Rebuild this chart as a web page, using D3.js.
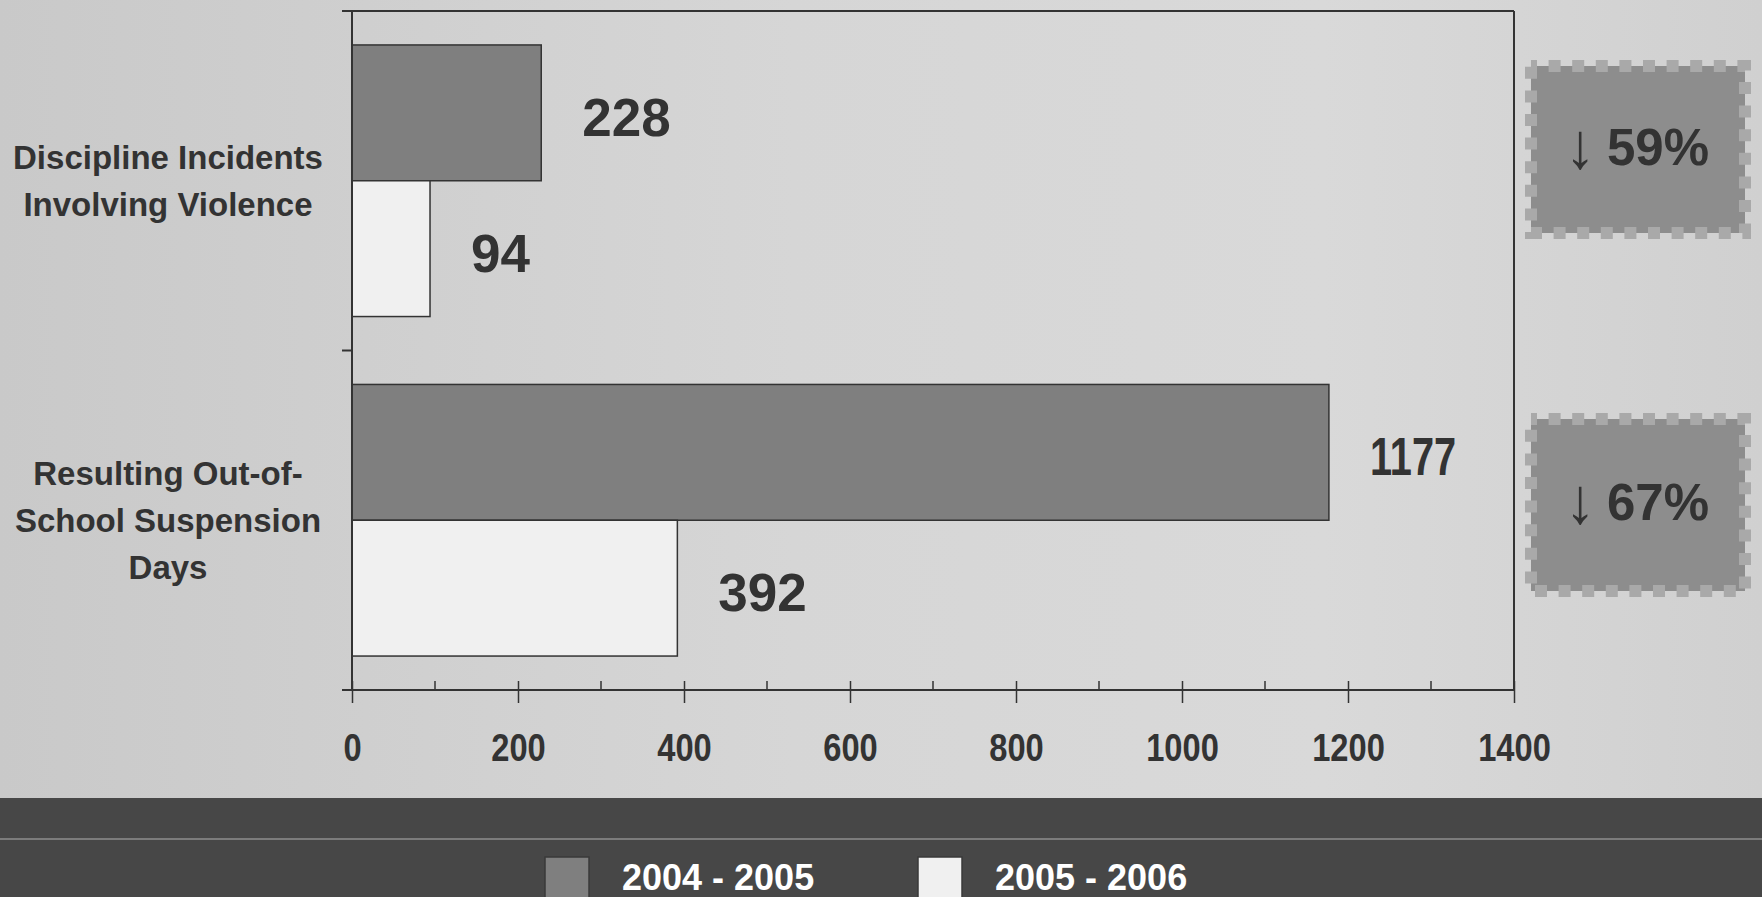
<!DOCTYPE html>
<html>
<head>
<meta charset="utf-8">
<script src="https://cdn.jsdelivr.net/npm/d3@7"></script>
<style>
  html, body { margin: 0; padding: 0; background: #d2d2d2; }
  svg { display: block; }
  text { font-family: "Liberation Sans", Arial, sans-serif; }
</style>
</head>
<body>
<svg id="chart" width="1762" height="897"></svg>
<script>
// Categories (one row per measure) and the two school years compared
const categories = ["Discipline Incidents Involving Violence", "Resulting Out-of-School Suspension Days"];
const categoryLines = [
  ["Discipline Incidents", "Involving Violence"],
  ["Resulting Out-of-", "School Suspension", "Days"]
];
const seriesNames = ["2004 - 2005", "2005 - 2006"];
const values2004 = [228, 1177];
const values2005 = [94, 392];
const xTickValues = [0, 200, 400, 600, 800, 1000, 1200, 1400];
const xMinorTicks = [100, 300, 500, 700, 900, 1100, 1300];

const W = 1762, H = 897;
const svg = d3.select("#chart");
const ink = "#333333";
const seriesColors = ["#7f7f7f", "#f0f0f0"];

// Backdrop
const defs = svg.append("defs");
const bg = defs.append("linearGradient").attr("id", "bg").attr("x1", 0).attr("x2", 1).attr("y1", 0).attr("y2", 0);
bg.append("stop").attr("offset", "0%").attr("stop-color", "#c9c9c9");
bg.append("stop").attr("offset", "45%").attr("stop-color", "#d6d6d6");
bg.append("stop").attr("offset", "75%").attr("stop-color", "#d9d9d9");
bg.append("stop").attr("offset", "100%").attr("stop-color", "#d0d0d0");
svg.append("rect").attr("width", W).attr("height", H).attr("fill", "url(#bg)");

// Plot area
const plot = { left: 352, right: 1514, top: 11, bottom: 690 };

const x = d3.scaleLinear().domain([0, 1400]).range([plot.left, plot.right]);
const y = d3.scaleBand().domain(categories).range([plot.top, plot.bottom])
  .paddingInner(0.2).paddingOuter(0.1);
const ySub = d3.scaleBand().domain(seriesNames).range([0, y.bandwidth()]);

const rows = categories.map((c, i) => ({
  category: c,
  bars: [
    { series: seriesNames[0], value: values2004[i] },
    { series: seriesNames[1], value: values2005[i] }
  ]
}));

// Bars
const g = svg.append("g");
const rowG = g.selectAll("g.row").data(rows).join("g")
  .attr("class", "row")
  .attr("transform", d => `translate(0,${y(d.category)})`);

rowG.selectAll("rect").data(d => d.bars).join("rect")
  .attr("x", x(0))
  .attr("y", d => ySub(d.series))
  .attr("width", d => x(d.value) - x(0))
  .attr("height", ySub.bandwidth())
  .attr("fill", (d, i) => seriesColors[i])
  .attr("stroke", ink)
  .attr("stroke-width", 1.5);

// Value labels beside each bar
rowG.selectAll("text.val").data(d => d.bars).join("text")
  .attr("class", "val")
  .attr("transform", d => {
    const tx = x(d.value) + 41;
    const ty = ySub(d.series) + ySub.bandwidth() / 2 + 4;
    const digits = String(d.value).length;
    const sx = Math.min(1, 3 / digits);
    return `translate(${tx},${ty}) scale(${sx},1)`;
  })
  .attr("dy", "0.36em")
  .attr("font-size", 53)
  .attr("font-weight", "bold")
  .attr("fill", ink)
  .text(d => d.value);

// X axis
const xAxis = d3.axisBottom(x).tickValues(xTickValues).tickFormat(d3.format("d"))
  .tickSize(13).tickPadding(0).tickSizeOuter(0);
const axG = svg.append("g").attr("transform", `translate(0,${plot.bottom})`).call(xAxis);
axG.select(".domain").remove();
axG.selectAll(".tick line").attr("y1", -9).attr("stroke", ink).attr("stroke-width", 1.5);
axG.selectAll(".tick text")
  .attr("y", 0).attr("dy", "0.36em")
  .attr("transform", "translate(0,57) scale(0.86,1)")
  .attr("font-size", 38).attr("font-weight", "bold")
  .attr("font-family", "Liberation Sans, Arial, sans-serif")
  .attr("fill", ink);
axG.selectAll("line.minor").data(xMinorTicks).join("line")
  .attr("class", "minor")
  .attr("x1", d => x(d)).attr("x2", d => x(d))
  .attr("y1", -9).attr("y2", 0)
  .attr("stroke", ink).attr("stroke-width", 1.5);

// Frame: left axis, bottom axis, top and right border
const frame = svg.append("g").attr("stroke", ink).attr("stroke-width", 2).attr("fill", "none");
frame.append("line").attr("x1", plot.left - 10).attr("x2", plot.right).attr("y1", plot.bottom).attr("y2", plot.bottom);
frame.append("line").attr("x1", plot.left - 10).attr("x2", plot.right).attr("y1", plot.top).attr("y2", plot.top);
frame.append("line").attr("x1", plot.left).attr("x2", plot.left).attr("y1", plot.top).attr("y2", plot.bottom);
frame.append("line").attr("x1", plot.right).attr("x2", plot.right).attr("y1", plot.top).attr("y2", plot.bottom);

// Category separators on the left axis
const step = y.step();
const bounds = d3.range(categories.length + 1).map(i => plot.top + i * step);
frame.selectAll("line.sep").data(bounds).join("line")
  .attr("class", "sep")
  .attr("x1", plot.left - 10).attr("x2", plot.left)
  .attr("y1", d => d).attr("y2", d => d);

// Category labels
const catG = svg.append("g");
categories.forEach((c, i) => {
  const lines = categoryLines[i];
  const cy = y(c) + y.bandwidth() / 2;
  const lh = 47;
  const t = catG.append("text")
    .attr("text-anchor", "middle")
    .attr("font-size", 33).attr("font-weight", "bold")
    .attr("fill", ink);
  lines.forEach((ln, j) => {
    t.append("tspan")
      .attr("x", 168)
      .attr("y", cy + (j - (lines.length - 1) / 2) * lh)
      .attr("dy", "0.36em")
      .text(ln);
  });
});

// Percent-change badges with stamped edges
const badgeBoxes = [
  { x: 1531, y: 66, w: 214, h: 167 },
  { x: 1531, y: 419, w: 214, h: 172 }
];
const badgeG = svg.append("g");
categories.forEach((c, i) => {
  const drop = Math.round((1 - values2005[i] / values2004[i]) * 100);
  const b = badgeBoxes[i];
  badgeG.append("rect")
    .attr("x", b.x).attr("y", b.y).attr("width", b.w).attr("height", b.h)
    .attr("fill", "#8d8d8d");
  badgeG.append("rect")
    .attr("x", b.x).attr("y", b.y).attr("width", b.w).attr("height", b.h)
    .attr("fill", "none")
    .attr("stroke", "#a9a9a9").attr("stroke-width", 12)
    .attr("stroke-dasharray", "12 11.6")
    .attr("stroke-dashoffset", 6);
  const cy = b.y + b.h / 2 - 3;
  // down arrow glyph, stretched to cap height
  badgeG.append("text")
    .attr("transform", `translate(1580,${cy - 2}) scale(1.8,1.9)`)
    .attr("dy", "0.36em")
    .attr("text-anchor", "middle")
    .attr("font-family", "DejaVu Sans, sans-serif")
    .attr("font-size", 34)
    .attr("fill", ink)
    .text("\u2193");
  badgeG.append("text")
    .attr("x", 1607).attr("y", cy).attr("dy", "0.36em")
    .attr("text-anchor", "start")
    .attr("font-size", 51).attr("font-weight", "bold")
    .attr("fill", ink)
    .text(drop + "%");
});

// Legend band
svg.append("rect").attr("x", 0).attr("y", 798).attr("width", W).attr("height", H - 798).attr("fill", "#474747");
svg.append("line").attr("x1", 0).attr("x2", W).attr("y1", 839).attr("y2", 839)
  .attr("stroke", "#7c7c7c").attr("stroke-width", 2);

const legendX = [545, 918];
const leg = svg.append("g");
seriesNames.forEach((s, i) => {
  leg.append("rect")
    .attr("x", legendX[i]).attr("y", 857).attr("width", 44).attr("height", 46)
    .attr("fill", seriesColors[i]).attr("stroke", "#3a3a3a").attr("stroke-width", 1.5);
  leg.append("text")
    .attr("x", legendX[i] + 77).attr("y", 890)
    .attr("font-size", 36).attr("font-weight", "bold")
    .attr("fill", "#ffffff")
    .text(s);
});
</script>
</body>
</html>
